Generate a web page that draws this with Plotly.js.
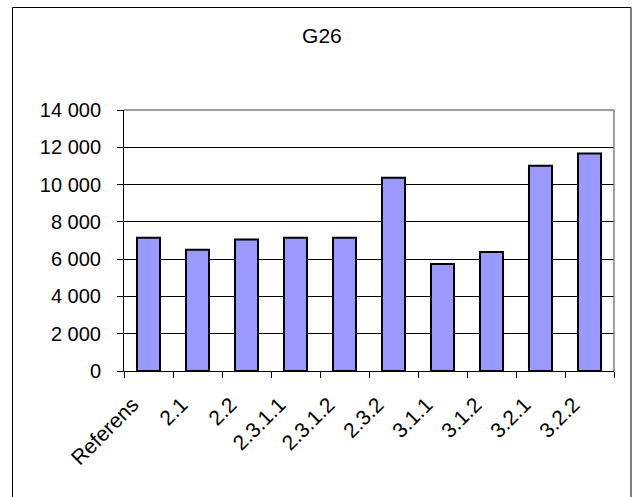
<!DOCTYPE html>
<html>
<head>
<meta charset="utf-8">
<script src="https://cdn.plot.ly/plotly-3.0.1.min.js"></script>
<style>
  html, body { margin: 0; padding: 0; background: #fff; }
  #chart { width: 640px; height: 497px; }
</style>
</head>
<body>
<div id="chart"></div>
<script>
// Category labels along the x axis
const categories = ['Referens', '2.1', '2.2', '2.3.1.1', '2.3.1.2', '2.3.2', '3.1.1', '3.1.2', '3.2.1', '3.2.2'];
// G26 values per category
const values = [7150, 6500, 7050, 7150, 7150, 10370, 5740, 6380, 11010, 11660];
// Y axis ticks
const yTicks = [0, 2000, 4000, 6000, 8000, 10000, 12000, 14000];

const W = 640, H = 497;
const m = { l: 124, r: 26, t: 110, b: 126 };
const pw = W - m.l - m.r, ph = H - m.t - m.b;
// convert pixel positions of the outer frame to paper units
const px = x => (x - m.l) / pw;
const py = y => (H - m.b - y) / ph;

const font = { family: 'Liberation Sans, Arial, sans-serif', size: 20, color: '#000' };
const titleFont = { family: 'Liberation Sans, Arial, sans-serif', size: 21, color: '#000' };
const xFont = { family: 'Liberation Sans, Arial, sans-serif', size: 21, color: '#000' };

const trace = {
  type: 'bar',
  x: categories,
  y: values,
  marker: { color: '#9999FF', line: { color: '#000', width: 2 } },
  hoverinfo: 'x+y'
};

const layout = {
  width: W, height: H,
  margin: m,
  paper_bgcolor: '#fff',
  plot_bgcolor: '#fff',
  font: font,
  separators: '. ',
  showlegend: false,
  bargap: 0.53,
  title: {
    text: 'G26',
    font: titleFont,
    xref: 'container', x: 0.503,
    yref: 'container', y: 1 - 36 / H,
    xanchor: 'center', yanchor: 'middle'
  },
  xaxis: {
    type: 'category',
    tickangle: -45,
    ticks: 'outside',
    tickson: 'boundaries',
    ticklen: 6,
    tickcolor: '#000',
    tickwidth: 1,
    ticklabelshift: -16,
    ticklabelstandoff: 12,
    showline: true,
    linecolor: '#000',
    linewidth: 1,
    showgrid: false,
    tickfont: xFont
  },
  yaxis: {
    range: [0, 14000],
    tickvals: yTicks,
    tickformat: ',d',
    ticks: 'outside',
    ticklen: 6,
    tickcolor: '#000',
    tickwidth: 1,
    ticklabelstandoff: 12,
    showline: true,
    linecolor: '#000',
    linewidth: 1,
    showgrid: true,
    gridcolor: '#000',
    gridwidth: 1,
    zeroline: false,
    tickfont: font,
    fixedrange: true
  },
  shapes: [
    // grey top and right edges of the plot area
    { type: 'line', xref: 'paper', yref: 'paper', x0: 0, x1: 1, y0: 1, y1: 1,
      line: { color: '#808080', width: 1.5 } },
    { type: 'line', xref: 'paper', yref: 'paper', x0: 1, x1: 1, y0: 0, y1: 1,
      line: { color: '#808080', width: 1.5 } },
    // outer chart frame
    { type: 'rect', xref: 'paper', yref: 'paper', layer: 'below',
      x0: px(12.5), x1: px(631), y0: py(505), y1: py(7.5),
      line: { color: '#000', width: 1 }, fillcolor: 'rgba(0,0,0,0)' }
  ]
};

Plotly.newPlot('chart', [trace], layout, { displayModeBar: false, staticPlot: true });
</script>
</body>
</html>
